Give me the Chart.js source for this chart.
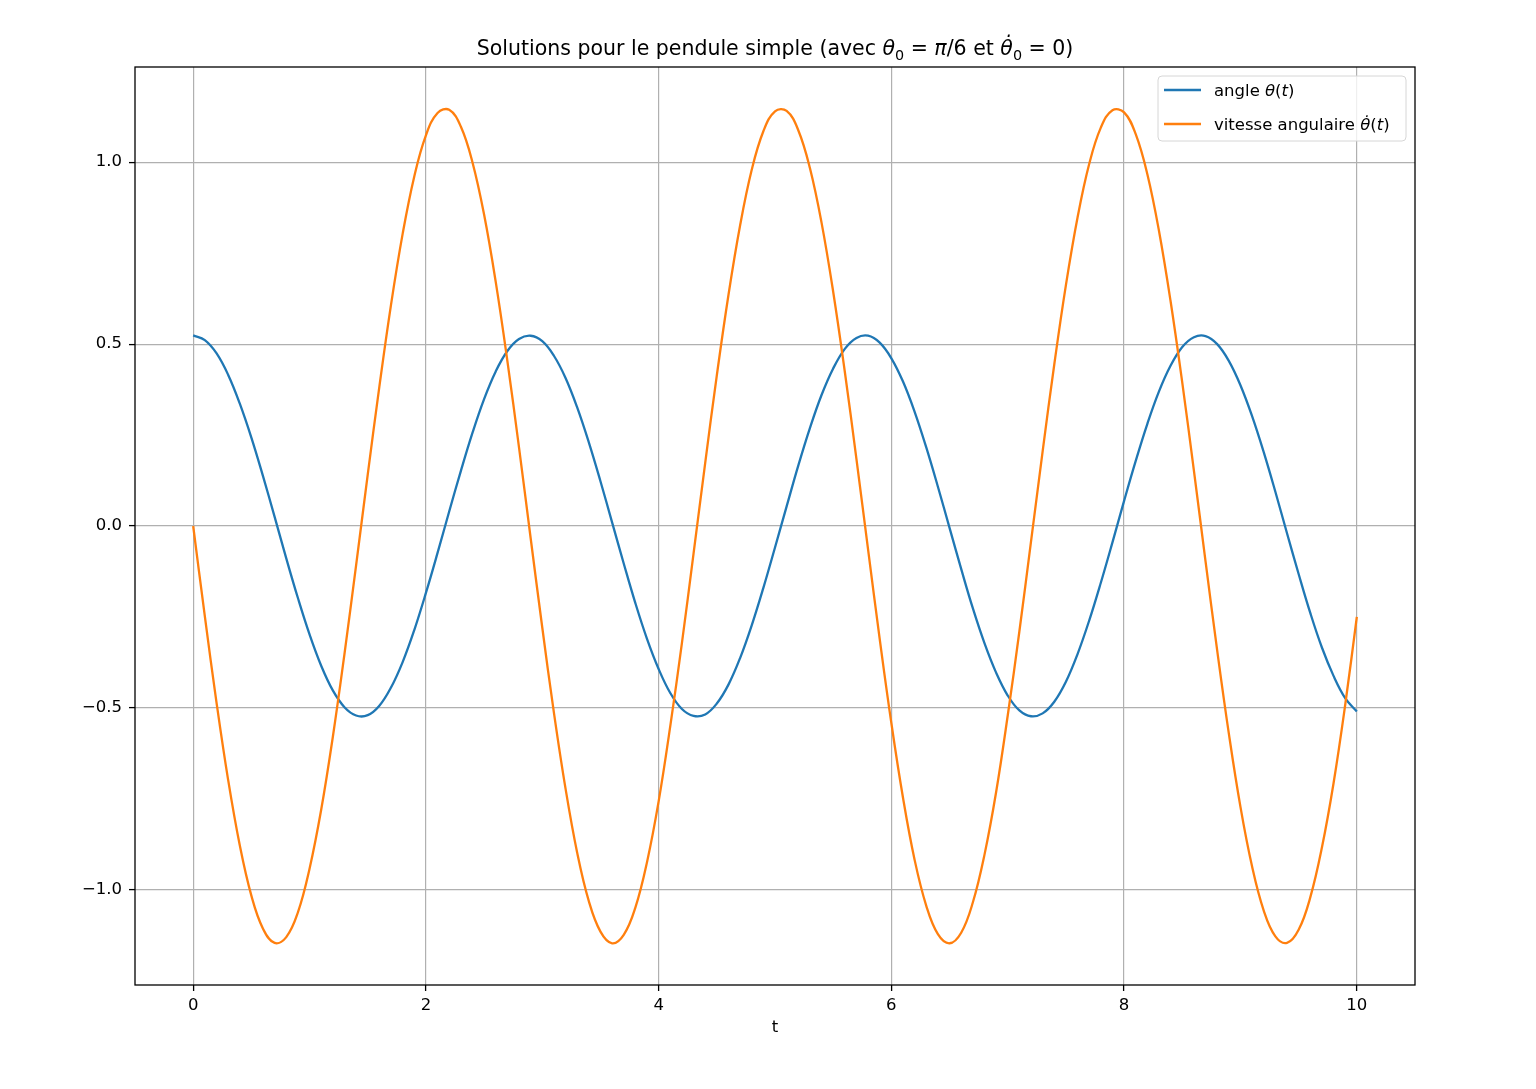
<!DOCTYPE html>
<html>
<head>
<meta charset="utf-8">
<script src="https://cdn.jsdelivr.net/npm/chart.js@4/dist/chart.umd.min.js"></script>
<style>
    html, body { margin: 0; padding: 0; background: #fff; }
    #wrap { width: 1536px; height: 1089px; }
</style>
</head>
<body>
<div id="wrap"><canvas id="pendule" width="1536" height="1089"></canvas></div>
<script>
// --- Data ---
const tValues = [
    0.0, 0.1, 0.2, 0.3, 0.4, 0.5, 0.6, 0.7, 0.8, 0.9,
    1.0, 1.1, 1.2, 1.3, 1.4, 1.5, 1.6, 1.7, 1.8, 1.9,
    2.0, 2.1, 2.2, 2.3, 2.4, 2.5, 2.6, 2.7, 2.8, 2.9,
    3.0, 3.1, 3.2, 3.3, 3.4, 3.5, 3.6, 3.7, 3.8, 3.9,
    4.0, 4.1, 4.2, 4.3, 4.4, 4.5, 4.6, 4.7, 4.8, 4.9,
    5.0, 5.1, 5.2, 5.3, 5.4, 5.5, 5.6, 5.7, 5.8, 5.9,
    6.0, 6.1, 6.2, 6.3, 6.4, 6.5, 6.6, 6.7, 6.8, 6.9,
    7.0, 7.1, 7.2, 7.3, 7.4, 7.5, 7.6, 7.7, 7.8, 7.9,
    8.0, 8.1, 8.2, 8.3, 8.4, 8.5, 8.6, 8.7, 8.8, 8.9,
    9.0, 9.1, 9.2, 9.3, 9.4, 9.5, 9.6, 9.7, 9.8, 9.9,
    10.0
];

// angle theta(t)
const angleValues = [
    0.524, 0.511, 0.475, 0.416, 0.337, 0.243, 0.137, 0.025, -0.089, -0.198,
    -0.298, -0.384, -0.452, -0.498, -0.521, -0.520, -0.494, -0.444, -0.374, -0.286,
    -0.184, -0.074, 0.040, 0.151, 0.256, 0.349, 0.425, 0.481, 0.514, 0.523,
    0.508, 0.468, 0.407, 0.326, 0.230, 0.123, 0.010, -0.103, -0.212, -0.310,
    -0.393, -0.459, -0.503, -0.522, -0.518, -0.488, -0.436, -0.363, -0.273, -0.170,
    -0.059, 0.054, 0.166, 0.269, 0.360, 0.433, 0.487, 0.517, 0.523, 0.504,
    0.461, 0.397, 0.314, 0.216, 0.108, -0.005, -0.118, -0.226, -0.322, -0.403,
    -0.466, -0.507, -0.523, -0.515, -0.483, -0.428, -0.352, -0.260, -0.156, -0.045,
    0.069, 0.179, 0.281, 0.370, 0.441, 0.492, 0.519, 0.522, 0.500, 0.454,
    0.387, 0.302, 0.203, 0.094, -0.020, -0.132, -0.239, -0.334, -0.412, -0.473,
    -0.510
];

// vitesse angulaire theta'(t)
const speedValues = [
    0.000, -0.248, -0.484, -0.697, -0.877, -1.016, -1.107, -1.146, -1.130, -1.062,
    -0.942, -0.780, -0.580, -0.352, -0.108, 0.141, 0.383, 0.608, 0.803, 0.961,
    1.074, 1.135, 1.144, 1.098, 1.000, 0.856, 0.671, 0.454, 0.216, -0.033,
    -0.279, -0.513, -0.722, -0.898, -1.031, -1.115, -1.147, -1.124, -1.049, -0.924,
    -0.757, -0.550, -0.322, -0.076, 0.173, 0.414, 0.635, 0.826, 0.979, 1.085,
    1.140, 1.141, 1.088, 0.984, 0.834, 0.644, 0.424, 0.184, -0.065, -0.311,
    -0.542, -0.747, -0.918, -1.044, -1.122, -1.147, -1.118, -1.035, -0.904, -0.732,
    -0.521, -0.290, -0.043, 0.205, 0.444, 0.662, 0.848, 0.995, 1.095, 1.143,
    1.137, 1.077, 0.967, 0.811, 0.617, 0.394, 0.152, -0.097, -0.342, -0.570,
    -0.772, -0.936, -1.057, -1.128, -1.146, -1.110, -1.021, -0.884, -0.707, -0.492,
    -0.250
];

const xTicks = [0, 2, 4, 6, 8, 10];
const yTicks = [-1.0, -0.5, 0.0, 0.5, 1.0];

const FONT = "'DejaVu Sans', sans-serif";
const BLUE = '#1f77b4';
const ORANGE = '#ff7f0e';

// --- Helpers ---
const formatTick = (v) => (v < 0 ? '\u2212' : '') + Math.abs(v).toFixed(1);

const toPoints = (ys) => tValues.map((t, i) => ({ x: t, y: ys[i] }));

// draw a line of text made of parts (italic / subscript), y = baseline
function drawRich(ctx, parts, x, y, size, align) {
    const fontFor = (p) => (p.it ? 'italic ' : '') + (p.sub ? size * 0.7 : size) + 'px ' + FONT;
    let total = 0;
    parts.forEach(p => { ctx.font = fontFor(p); total += ctx.measureText(p.t).width; });
    let cx = align === 'center' ? x - total / 2 : x;
    ctx.textAlign = 'left';
    ctx.textBaseline = 'alphabetic';
    parts.forEach(p => {
        ctx.font = fontFor(p);
        ctx.fillText(p.t, cx, y + (p.sub ? size * 0.22 : 0));
        cx += ctx.measureText(p.t).width;
    });
}

const titleParts = [
    { t: 'Solutions pour le pendule simple (avec ' },
    { t: '\u03b8', it: true }, { t: '0', sub: true },
    { t: ' = ' }, { t: '\u03c0', it: true }, { t: '/6 et ' },
    { t: '\u03b8\u0307', it: true }, { t: '0', sub: true },
    { t: ' = 0)' }
];

const legendItems = [
    { color: BLUE, parts: [{ t: 'angle ' }, { t: '\u03b8', it: true }, { t: '(' }, { t: 't', it: true }, { t: ')' }] },
    { color: ORANGE, parts: [{ t: 'vitesse angulaire ' }, { t: '\u03b8\u0307', it: true }, { t: '(' }, { t: 't', it: true }, { t: ')' }] }
];

// title, frame and legend box in matplotlib style
const decorPlugin = {
    id: 'decor',
    afterDraw(chart) {
        const ctx = chart.ctx;
        const area = chart.chartArea;
        ctx.save();

        // frame
        ctx.strokeStyle = '#000';
        ctx.lineWidth = 1.3;
        ctx.strokeRect(area.left, area.top, area.right - area.left, area.bottom - area.top);

        // title
        ctx.fillStyle = '#000';
        drawRich(ctx, titleParts, (area.left + area.right) / 2, area.top - 12, 20.5, 'center');

        // legend
        const bx = area.right - 257, by = area.top + 9, bw = 248, bh = 65;
        ctx.beginPath();
        ctx.roundRect(bx, by, bw, bh, 4);
        ctx.fillStyle = 'rgba(255,255,255,0.8)';
        ctx.fill();
        ctx.strokeStyle = '#d6d6d6';
        ctx.lineWidth = 1;
        ctx.stroke();

        legendItems.forEach((item, i) => {
            const ly = by + 14 + i * 34;
            ctx.strokeStyle = item.color;
            ctx.lineWidth = 2.3;
            ctx.beginPath();
            ctx.moveTo(bx + 6, ly);
            ctx.lineTo(bx + 43, ly);
            ctx.stroke();
            ctx.fillStyle = '#000';
            drawRich(ctx, item.parts, bx + 56, ly + 6, 16.5, 'left');
        });

        ctx.restore();
    }
};

// --- Chart ---
const ctx = document.getElementById('pendule');

new Chart(ctx, {
    type: 'line',
    data: {
        datasets: [
            {
                label: 'angle \u03b8(t)',
                data: toPoints(angleValues),
                borderColor: BLUE,
                borderWidth: 2.3,
                pointRadius: 0,
                tension: 0.4,
                order: 1
            },
            {
                label: 'vitesse angulaire \u03b8\u0307(t)',
                data: toPoints(speedValues),
                borderColor: ORANGE,
                borderWidth: 2.3,
                pointRadius: 0,
                tension: 0.4,
                order: 0
            }
        ]
    },
    options: {
        responsive: false,
        animation: false,
        devicePixelRatio: 1,
        layout: { padding: { top: 67, right: 121, left: 0, bottom: 0 } },
        plugins: {
            legend: { display: false },
            tooltip: { enabled: false },
            title: { display: false }
        },
        scales: {
            x: {
                type: 'linear',
                min: -0.5,
                max: 10.5,
                afterBuildTicks: s => { s.ticks = xTicks.map(v => ({ value: v })); },
                afterFit: s => { s.height = 104; },
                grid: { color: '#b0b0b0', lineWidth: 1.2, tickLength: 6, tickColor: '#000', tickWidth: 1.3 },
                border: { display: false },
                ticks: {
                    color: '#000',
                    font: { family: FONT, size: 16.5 },
                    padding: 5,
                    maxRotation: 0,
                    callback: v => String(v)
                },
                title: {
                    display: true,
                    text: 't',
                    color: '#000',
                    font: { family: FONT, size: 16.5 },
                    padding: { top: 0, bottom: 51 }
                }
            },
            y: {
                type: 'linear',
                min: -1.2617,
                max: 1.2617,
                afterBuildTicks: s => { s.ticks = yTicks.map(v => ({ value: v })); },
                afterFit: s => { s.width = 135; },
                grid: { color: '#b0b0b0', lineWidth: 1.2, tickLength: 6, tickColor: '#000', tickWidth: 1.3 },
                border: { display: false },
                ticks: {
                    color: '#000',
                    font: { family: FONT, size: 16.5 },
                    padding: 7,
                    callback: v => formatTick(v)
                }
            }
        }
    },
    plugins: [decorPlugin]
});
</script>
</body>
</html>
